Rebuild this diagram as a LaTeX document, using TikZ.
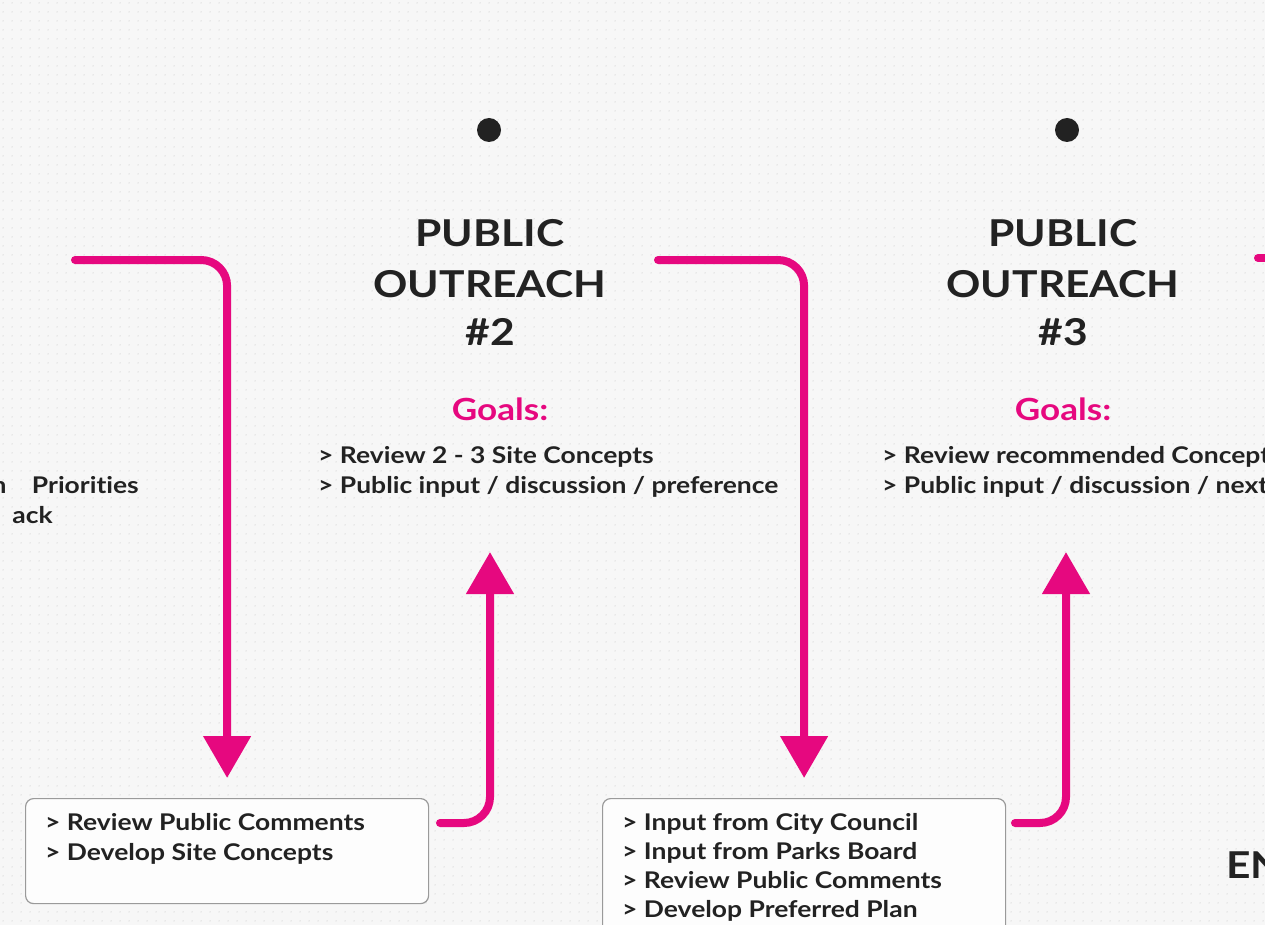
\documentclass[tikz,border=0pt]{standalone}
\usepackage{fontspec}
\setmainfont{Lato}[FakeStretch=1.15, Ligatures=NoCommon]
\usetikzlibrary{arrows.meta,patterns.meta}
\definecolor{mag}{HTML}{E6087F}
\definecolor{bgc}{HTML}{F7F7F7}
\definecolor{ink}{HTML}{222222}
\definecolor{boxline}{HTML}{9A9A9A}
\definecolor{dotc}{HTML}{DADADA}
\tikzdeclarepattern{
  name=bgdots, type=uncolored,
  bounding box={(0pt,0pt) and (9pt,9pt)},
  tile size={(9pt,9pt)},
  code={\fill (4.5pt,4.5pt) circle (0.8pt);}
}
\begin{document}
\begin{tikzpicture}[x=1pt,y=-1pt,
  flow/.style={draw=mag, line width=8pt, rounded corners=26pt, line cap=round, -{Triangle[length=42pt,width=46pt]}},
  flowplain/.style={draw=mag, line width=8pt, line cap=round},
  title/.style={font=\bfseries\fontsize{37}{50}\selectfont, text=ink, anchor=base, inner sep=0pt},
  goalhead/.style={font=\bfseries\fontsize{30.5}{36}\selectfont, text=mag, anchor=base, inner sep=0pt},
  item/.style={font=\bfseries\fontsize{23}{29}\selectfont, text=ink, anchor=base west, inner sep=0pt},
  itemr/.style={font=\bfseries\fontsize{23}{29}\selectfont, text=ink, anchor=base east, inner sep=0pt},
  taskbox/.style={draw=boxline, fill=white!70!bgc, line width=1.2pt, rounded corners=8pt, anchor=north west, inner sep=0pt},
  bullet/.style={circle, fill=ink, minimum size=24pt, inner sep=0pt}
]
\useasboundingbox (0,0) rectangle (1265,925);
\fill[bgc] (0,0) rectangle (1265,925);
\fill[pattern=bgdots, pattern color=dotc] (0,0) rectangle (1265,925);

% bullets
\node[bullet] (d2) at (489,130) {};
\node[bullet] (d3) at (1067,130) {};

% titles
\node[title] (t2a) at (490,247) {PUBLIC};
\node[title] (t2b) at (490,297) {OUTREACH};
\node[title] (t2c) at (490,345) {\#2};
\node[title] (t3a) at (1063,247) {PUBLIC};
\node[title] (t3b) at (1063,297) {OUTREACH};
\node[title] (t3c) at (1063,345) {\#3};

% goals
\node[goalhead] (g2) at (500,420) {Goals:};
\node[goalhead] (g3) at (1063,420) {Goals:};
\node[item] (g2a) at (318,463) {> Review 2 - 3 Site Concepts};
\node[item] (g2b) at (318,493) {> Public input / discussion / preference};
\node[item] (g3a) at (882,463) {> Review recommended Concept};
\node[item] (g3b) at (882,493) {> Public input / discussion / next};

% cut-off left text
\node[itemr] (l1) at (139,493) {n \kern19pt Priorities};
\node[itemr] (l2) at (53,523) {ack};

% end label
\node[title, anchor=base west] (en) at (1226,878) {EN};

% task boxes
\node[taskbox, minimum width=403pt, minimum height=105pt] (b1) at (25,798) {};
\node[taskbox, minimum width=403pt, minimum height=170pt] (b2) at (602,798) {};
\node[item] (b1a) at (45,830) {> Review Public Comments};
\node[item] (b1b) at (45,860) {> Develop Site Concepts};
\node[item] (b2a) at (622,830) {> Input from City Council};
\node[item] (b2b) at (622,859) {> Input from Parks Board};
\node[item] (b2c) at (622,888) {> Review Public Comments};
\node[item] (b2d) at (622,917) {> Develop Preferred Plan};

% connector ends
\coordinate (s1) at (75,260);
\coordinate (s2) at (440,823);
\coordinate (e2) at (490,552);
\coordinate (s3) at (658,260);
\coordinate (s4) at (1015,823);
\coordinate (e4) at (1066,552);
\coordinate (s5) at (1258,258);
\coordinate (e5) at (1290,258);

% connectors
\draw[flow, shorten >=20pt] (s1) -| (b1.north);
\draw[flow] (s2) -| (e2);
\draw[flow, shorten >=20pt] (s3) -| (b2.north);
\draw[flow] (s4) -| (e4);
\draw[flowplain] (s5) -- (e5);
\end{tikzpicture}
\end{document}
